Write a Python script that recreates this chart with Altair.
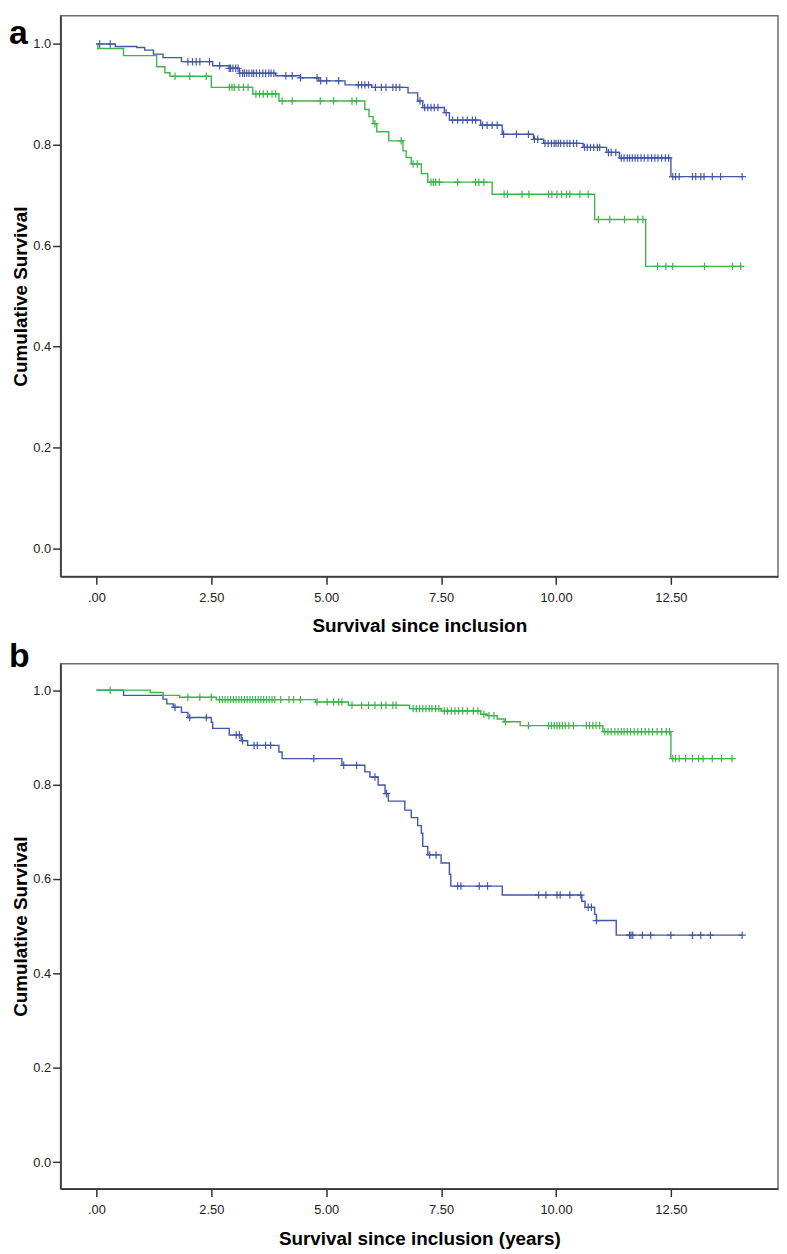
import altair as alt
import pandas as pd

FONT = "Liberation Sans"
BLUE = "#4257a9"
GREEN = "#3cb54a"

# ---------------- Panel a ----------------
a_blue_t = [0, 0.41, 0.88, 1.05, 1.24, 1.45, 1.85, 2.53, 2.89, 3.11, 3.90, 4.44, 4.84, 5.41, 5.99,
            6.78, 6.99, 7.10, 7.57, 7.68, 8.36, 8.83, 9.51, 9.73, 10.59, 11.10, 11.38, 12.50, 14.05]
a_blue_s = [1.0, 0.995, 0.993, 0.988, 0.980, 0.973, 0.965, 0.957, 0.952, 0.942, 0.937, 0.933, 0.927, 0.919, 0.914,
            0.903, 0.887, 0.874, 0.864, 0.849, 0.839, 0.821, 0.811, 0.803, 0.795, 0.785, 0.774, 0.737, 0.737]
a_blue_c = [0.07, 0.30, 1.99, 2.09, 2.17, 2.25, 2.46, 2.68, 2.89, 2.92, 2.97, 3.03, 3.08, 3.12, 3.18, 3.22,
            3.27, 3.32, 3.38, 3.42, 3.48, 3.55, 3.62, 3.68, 3.75, 3.80, 3.86, 4.12, 4.26, 4.44, 4.80, 4.88,
            5.01, 5.27, 5.70, 5.77, 5.84, 5.92, 6.07, 6.20, 6.30, 6.45, 6.52, 6.60, 7.04, 7.14, 7.21, 7.28,
            7.35, 7.43, 7.61, 7.75, 7.86, 7.97, 8.07, 8.18, 8.25, 8.40, 8.50, 8.61, 8.72, 8.86, 9.14, 9.40,
            9.53, 9.60, 9.76, 9.83, 9.90, 9.96, 10.00, 10.05, 10.10, 10.17, 10.24, 10.30, 10.38, 10.45,
            10.62, 10.68, 10.75, 10.82, 10.90, 10.95, 11.14, 11.20, 11.30, 11.42, 11.48, 11.55, 11.60,
            11.66, 11.72, 11.78, 11.85, 11.92, 12.00, 12.08, 12.15, 12.22, 12.30, 12.38, 12.45, 12.54,
            12.60, 12.68, 12.97, 13.04, 13.15, 13.22, 13.40, 13.58, 14.05]

a_green_t = [0, 0.03, 0.59, 1.31, 1.49, 1.60, 2.50, 3.40, 3.97, 5.84, 5.93, 6.02, 6.10, 6.36, 6.67,
             6.74, 6.85, 7.07, 7.21, 8.61, 10.84, 11.95, 14.02]
a_green_s = [1.0, 0.991, 0.977, 0.955, 0.943, 0.936, 0.914, 0.901, 0.887, 0.870, 0.856, 0.842, 0.826, 0.808,
             0.788, 0.775, 0.762, 0.743, 0.726, 0.702, 0.652, 0.559, 0.559]
a_green_c = [1.71, 2.03, 2.39, 2.89, 2.95, 3.00, 3.10, 3.20, 3.30, 3.47, 3.55, 3.63, 3.72, 3.82, 3.90,
             4.04, 4.26, 4.87, 5.16, 5.56, 5.66, 6.06, 6.63, 6.89, 6.98, 7.28, 7.33, 7.38, 7.46, 7.86,
             8.25, 8.32, 8.43, 8.87, 8.94, 9.26, 9.41, 9.84, 9.91, 10.02, 10.12, 10.23, 10.30, 10.52,
             10.70, 10.92, 11.17, 11.49, 11.78, 11.89, 12.21, 12.39, 12.54, 13.23, 13.84, 14.02]

# ---------------- Panel b ----------------
b_green_t = [0, 1.17, 1.45, 1.81, 2.61, 4.77, 5.48, 6.81, 7.50, 8.36, 8.51, 8.72, 8.87, 9.22, 11.02,
             12.50, 13.83]
b_green_s = [1.0, 0.995, 0.989, 0.985, 0.980, 0.975, 0.968, 0.961, 0.956, 0.949, 0.946, 0.939, 0.933,
             0.925, 0.912, 0.855, 0.855]
b_green_c = [0.30, 1.99, 2.25, 2.50, 2.68, 2.74, 2.80, 2.86, 2.92, 2.98, 3.04, 3.10, 3.16, 3.22, 3.28,
             3.34, 3.40, 3.46, 3.52, 3.58, 3.64, 3.70, 3.76, 3.82, 3.88, 4.01, 4.19, 4.29, 4.44, 4.80,
             5.02, 5.16, 5.27, 5.34, 5.56, 5.77, 5.92, 6.06, 6.20, 6.30, 6.45, 6.52, 6.89, 6.96, 7.03,
             7.10, 7.17, 7.24, 7.30, 7.38, 7.45, 7.57, 7.64, 7.72, 7.80, 7.88, 7.97, 8.07, 8.20, 8.30,
             8.43, 8.54, 8.65, 8.90, 9.40, 9.84, 9.90, 9.96, 10.02, 10.08, 10.14, 10.20, 10.28, 10.38,
             10.66, 10.73, 10.80, 10.87, 10.95, 11.06, 11.13, 11.20, 11.28, 11.35, 11.42, 11.48, 11.55,
             11.62, 11.70, 11.78, 11.86, 11.94, 12.02, 12.10, 12.20, 12.30, 12.40, 12.47, 12.54, 12.60,
             12.68, 12.82, 12.97, 13.10, 13.20, 13.40, 13.60, 13.83]

b_blue_t = [0, 0.59, 1.45, 1.53, 1.67, 1.85, 1.99, 2.50, 2.53, 2.89, 3.15, 3.29, 3.97, 4.04, 5.34, 5.84,
            5.95, 6.13, 6.28, 6.35, 6.71, 6.85, 6.99, 7.07, 7.10, 7.21, 7.50, 7.68, 7.71, 8.83, 10.56,
            10.63, 10.84, 10.88, 11.31, 14.05]
b_blue_s = [1.0, 0.989, 0.981, 0.971, 0.964, 0.953, 0.942, 0.932, 0.919, 0.905, 0.893, 0.883, 0.869,
            0.855, 0.841, 0.827, 0.816, 0.799, 0.781, 0.765, 0.746, 0.730, 0.713, 0.697, 0.669, 0.651,
            0.634, 0.610, 0.585, 0.566, 0.553, 0.540, 0.525, 0.512, 0.481, 0.481]
b_blue_c = [1.71, 2.03, 2.39, 3.04, 3.11, 3.18, 3.43, 3.50, 3.68, 3.79, 4.73, 5.38, 5.66, 6.06, 6.31,
            7.25, 7.39, 7.86, 7.93, 8.33, 8.51, 9.62, 9.78, 10.02, 10.09, 10.30, 10.54, 10.70, 10.77,
            10.88, 11.60, 11.63, 11.67, 11.88, 12.06, 12.50, 12.97, 13.15, 13.36, 14.05]

x_ticks = [0, 2.5, 5, 7.5, 10, 12.5]
y_ticks = [0.0, 0.2, 0.4, 0.6, 0.8, 1.0]


def steps_df(t, s, g):
    return pd.DataFrame({"t": t, "s": s, "g": g})


def censor_df(st, ss, cens, g):
    vals = []
    for c in cens:
        idx = max(i for i, tt in enumerate(st) if tt <= c)
        vals.append(ss[idx])
    return pd.DataFrame({"t": cens, "s": vals, "g": g})


color_scale = alt.Scale(domain=["blue", "green"], range=[BLUE, GREEN])


def panel(lines, cens, letter, xtitle, h, letter_y):
    x = alt.X("t:Q",
              scale=alt.Scale(domain=[-0.78, 14.83], nice=False, zero=False),
              axis=alt.Axis(values=x_ticks, title=xtitle,
                            labelExpr="datum.value == 0 ? '.00' : format(datum.value, '.2f')",
                            labelPadding=7, titlePadding=13))
    y = alt.Y("s:Q",
              scale=alt.Scale(domain=[-0.056, 1.056], nice=False, zero=False),
              axis=alt.Axis(values=y_ticks, format=".1f", title="Cumulative Survival",
                            labelPadding=2, titlePadding=2.5))
    color = alt.Color("g:N", scale=color_scale, legend=None)
    line = alt.Chart(lines).mark_line(interpolate="step-after", strokeWidth=1.4).encode(
        x=x, y=y, color=color, detail="g:N")
    pts = alt.Chart(cens).mark_point(shape="M-1,0L1,0M0,-1L0,1", size=56, filled=False,
                                     strokeWidth=1.2, opacity=1).encode(
        x="t:Q", y="s:Q", color=alt.Color("g:N", scale=color_scale, legend=None))
    lab = alt.Chart(pd.DataFrame({"l": [letter]})).mark_text(
        align="left", baseline="alphabetic", fontSize=34, fontWeight="bold", font=FONT,
        color="black").encode(text="l:N", x=alt.value(-52), y=alt.value(letter_y))
    return alt.layer(line, pts, lab).properties(width=723, height=h)


lines_a = pd.concat([steps_df(a_blue_t, a_blue_s, "blue"), steps_df(a_green_t, a_green_s, "green")])
cens_a = pd.concat([censor_df(a_blue_t, a_blue_s, a_blue_c, "blue"),
                    censor_df(a_green_t, a_green_s, a_green_c, "green")])
lines_b = pd.concat([steps_df(b_blue_t, b_blue_s, "blue"), steps_df(b_green_t, b_green_s, "green")])
cens_b = pd.concat([censor_df(b_blue_t, b_blue_s, b_blue_c, "blue"),
                    censor_df(b_green_t, b_green_s, b_green_c, "green")])

pa = panel(lines_a, cens_a, "a", "Survival since inclusion", 565, 28)
pb = panel(lines_b, cens_b, "b", "Survival since inclusion (years)", 529, 3)

chart = alt.vconcat(pa, pb, spacing=88, bounds="flush").properties(
    padding={"left": 0, "top": 2, "right": 0, "bottom": 0}
).configure_view(
    stroke="#6e6e6e", strokeWidth=1.5
).configure_axis(
    grid=False, domainColor="#333333", domainWidth=1.5, tickColor="#333333", tickWidth=1.5,
    tickSize=8, labelFont=FONT, labelFontSize=13, labelColor="#222222",
    titleFont=FONT, titleFontSize=19, titleFontWeight="bold", titleColor="#000000"
)

chart.save("out.html", embed_options={"renderer": "svg", "actions": False})
